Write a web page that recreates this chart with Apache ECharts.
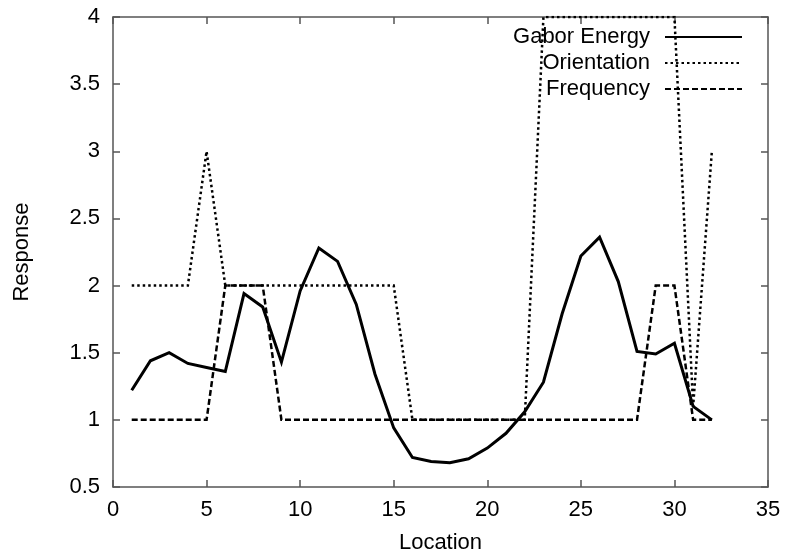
<!DOCTYPE html>
<html>
<head>
<meta charset="utf-8">
<script src="https://cdn.jsdelivr.net/npm/echarts@6/dist/echarts.min.js"></script>
<style>html,body{margin:0;padding:0;background:#fff;}#c{width:788px;height:556px;}</style>
</head>
<body>
<div id="c"></div>
<script>
const locations = [1,2,3,4,5,6,7,8,9,10,11,12,13,14,15,16,17,18,19,20,21,22,23,24,25,26,27,28,29,30,31,32];
const gaborEnergy = [1.22,1.44,1.50,1.42,1.39,1.36,1.94,1.84,1.43,1.96,2.28,2.18,1.86,1.34,0.94,0.72,0.69,0.68,0.71,0.79,0.90,1.06,1.28,1.79,2.22,2.36,2.03,1.51,1.49,1.57,1.10,1.00];
const orientation = [2,2,2,2,3,2,2,2,2,2,2,2,2,2,2,1,1,1,1,1,1,1,4,4,4,4,4,4,4,4,1.1,3];
const frequency = [1,1,1,1,1,2,2,2,1,1,1,1,1,1,1,1,1,1,1,1,1,1,1,1,1,1,1,1,2,2,1,1];
const seriesNames = ['Gabor Energy','Orientation','Frequency'];
const xTicks = {min:0, max:35, interval:5};
const yTicks = {min:0.5, max:4, interval:0.5};

const FONT = "'Liberation Sans', Arial, Helvetica, sans-serif";
const FS = 22;
const axisLineStyle = {color:'#555', width:1.5};
function pairs(vals){ return locations.map((x,i)=>[x, vals[i]]); }

const chart = echarts.init(document.getElementById('c'), null, {renderer:'canvas'});
const baseX = {type:'value', min:xTicks.min, max:xTicks.max, interval:xTicks.interval,
  axisLine:{show:true, onZero:false, lineStyle:axisLineStyle},
  axisTick:{show:true, inside:true, length:7, lineStyle:axisLineStyle},
  splitLine:{show:false}};
const baseY = {type:'value', min:yTicks.min, max:yTicks.max, interval:yTicks.interval,
  axisLine:{show:true, onZero:false, lineStyle:axisLineStyle},
  axisTick:{show:true, inside:true, length:7, lineStyle:axisLineStyle},
  splitLine:{show:false}};

chart.setOption({
  animation:false,
  backgroundColor:'#fff',
  textStyle:{fontFamily:FONT},
  grid:{left:113, right:20, top:17, bottom:69, containLabel:false, outerBoundsMode:'none'},
  legend:{
    orient:'vertical', right:40, top:21, align:'right',
    itemWidth:77, itemHeight:20, itemGap:4,
    itemStyle:{opacity:0},
    textStyle:{fontFamily:FONT, fontSize:FS, color:'#000', padding:[0,10,0,0]},
    data:seriesNames
  },
  xAxis:[
    Object.assign({}, baseX, {position:'bottom', name:'Location', nameLocation:'middle', nameGap:45,
      nameTextStyle:{fontFamily:FONT, fontSize:FS, color:'#000'},
      axisLabel:{show:true, margin:12, fontFamily:FONT, fontSize:FS, color:'#000'}}),
    Object.assign({}, baseX, {position:'top', axisLabel:{show:false}})
  ],
  yAxis:[
    Object.assign({}, baseY, {position:'left', name:'Response', nameLocation:'middle', nameGap:80,
      nameTextStyle:{fontFamily:FONT, fontSize:FS, color:'#000'},
      axisLabel:{show:true, margin:13, fontFamily:FONT, fontSize:FS, color:'#000'}}),
    Object.assign({}, baseY, {position:'right', axisLabel:{show:false}})
  ],
  series:[
    {name:seriesNames[0], type:'line', data:pairs(gaborEnergy), symbol:'none', color:'#000',
      lineStyle:{color:'#000', width:3, type:'solid', join:'miter'}},
    {name:seriesNames[1], type:'line', data:pairs(orientation), symbol:'none', color:'#000',
      lineStyle:{color:'#000', width:2.5, type:[2.5,3], join:'miter'}},
    {name:seriesNames[2], type:'line', data:pairs(frequency), symbol:'none', color:'#000',
      lineStyle:{color:'#000', width:2.5, type:[6,3], join:'miter'}}
  ]
});
</script>
</body>
</html>
